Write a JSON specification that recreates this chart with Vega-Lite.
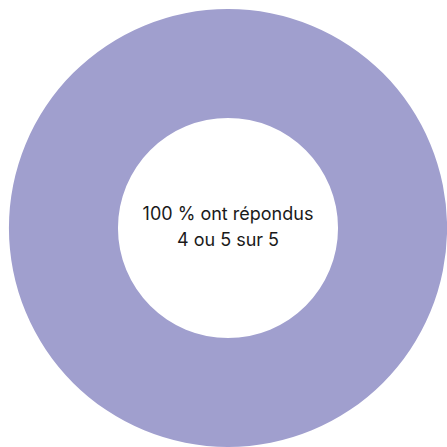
{
  "$schema": "https://vega.github.io/schema/vega-lite/v6.json",
  "width": 456,
  "height": 456,
  "padding": 0,
  "autosize": {"type": "none"},
  "background": "white",
  "config": {"view": {"stroke": null}},
  "layer": [
    {
      "data": {"values": [{"category": "4 ou 5 sur 5", "share": 100}]},
      "mark": {"type": "arc", "innerRadius": 110, "outerRadius": 219, "color": "#a09fce"},
      "encoding": {
        "theta": {"field": "share", "type": "quantitative", "stack": true}
      }
    },
    {
      "data": {"values": [{"label": "100 % ont répondus\n4 ou 5 sur 5"}]},
      "mark": {"type": "text", "lineBreak": "\n", "font": "Inter", "fontSize": 18, "lineHeight": 26, "color": "#1a1a1a", "align": "center", "baseline": "middle", "dy": -13},
      "encoding": {
        "text": {"field": "label", "type": "nominal"}
      }
    }
  ]
}
